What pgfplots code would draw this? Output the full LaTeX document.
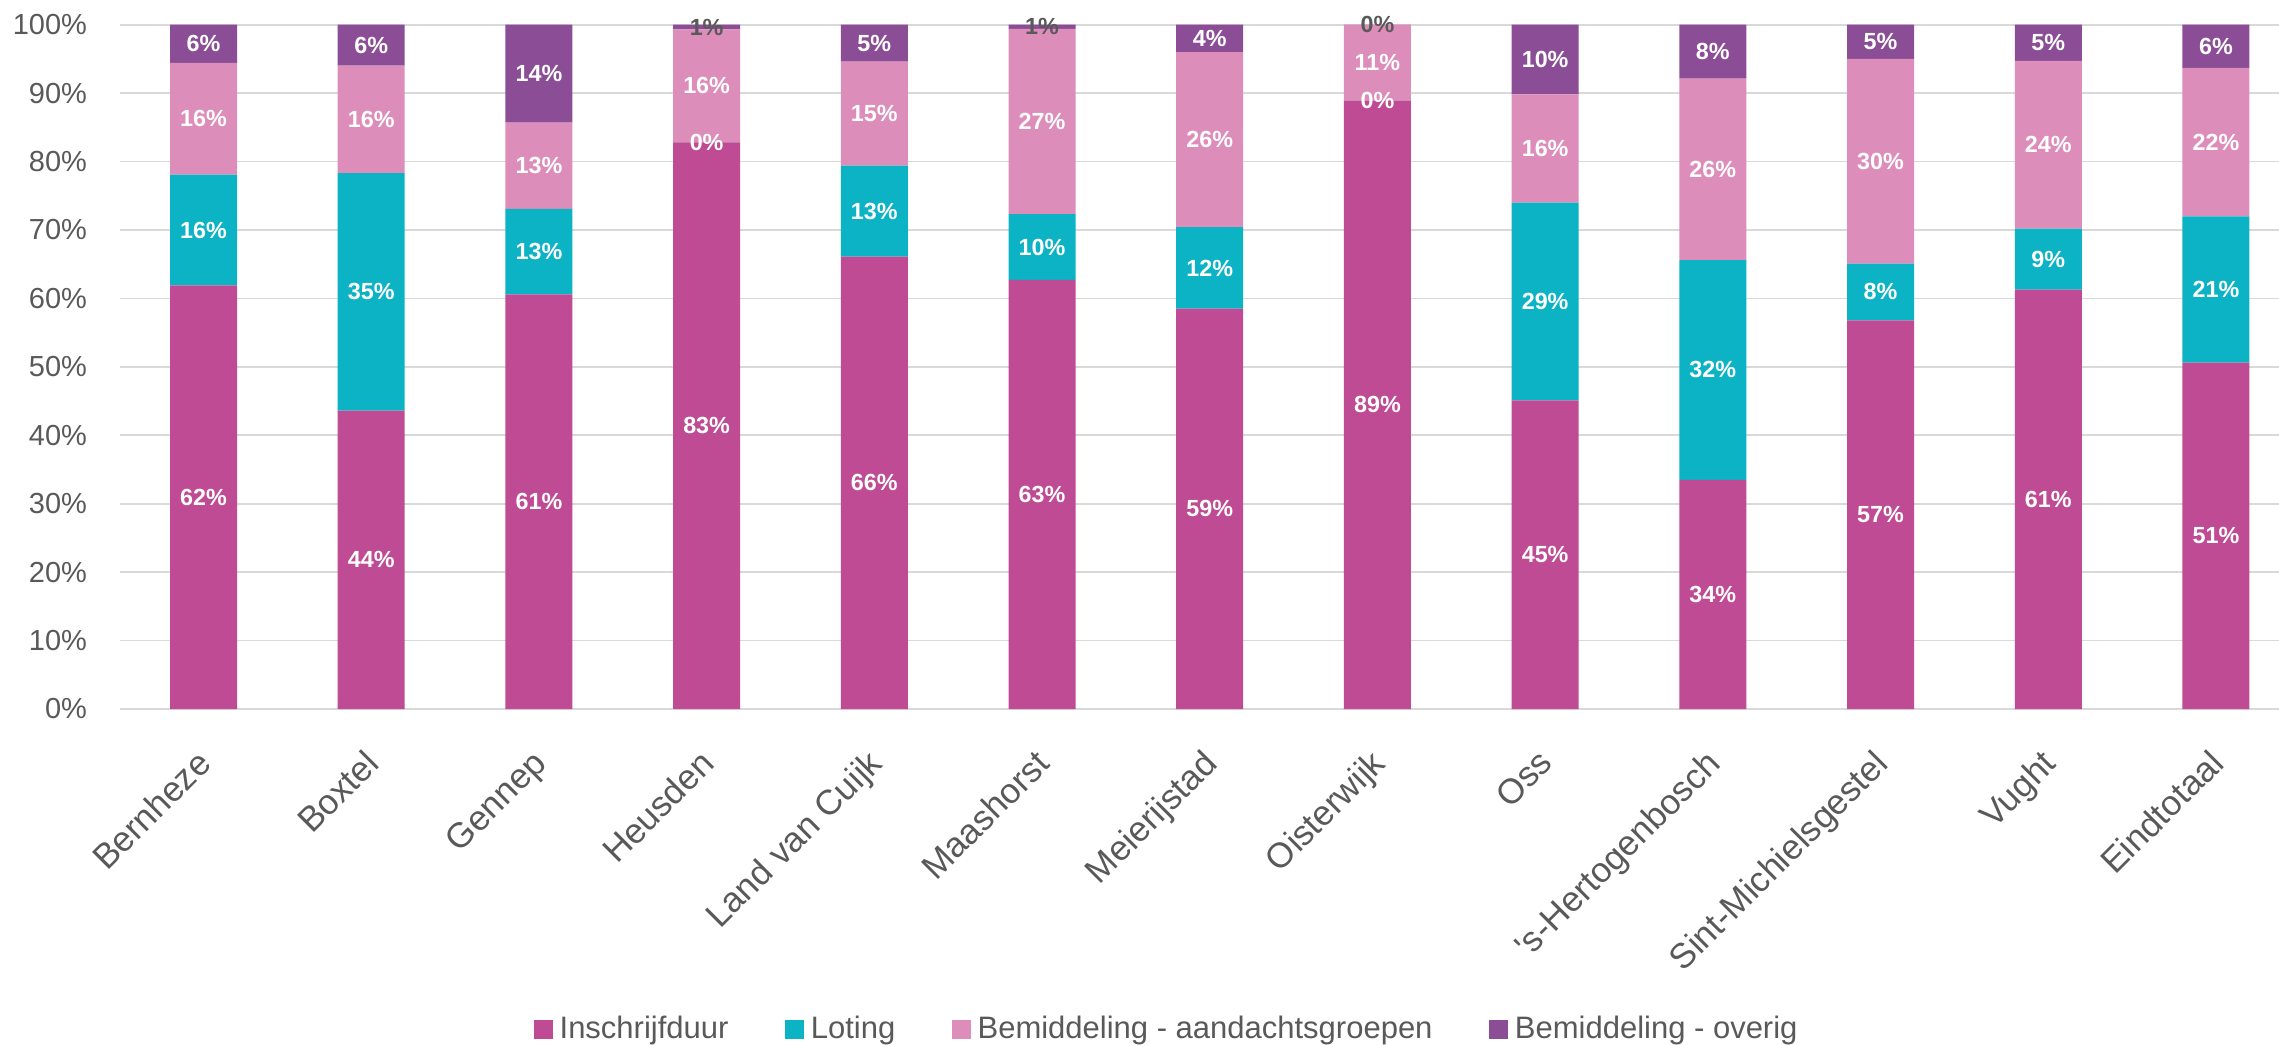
\documentclass[border=0pt]{standalone}
\usepackage{pgfplots}
\pgfplotsset{compat=1.18}
\usepackage{fontspec}
\setmainfont{Liberation Sans}

\definecolor{cInschr}{HTML}{BE4B94}
\definecolor{cLoting}{HTML}{0BB3C4}
\definecolor{cAandacht}{HTML}{DD8DBA}
\definecolor{cOverig}{HTML}{8A4D96}
\definecolor{txtgray}{HTML}{595959}
\definecolor{gridgray}{HTML}{D9D9D9}

\begin{document}
\begin{tikzpicture}
% page = 2279 x 1045 px at 0.3pt per px; axis box starts at (0,0)
\useasboundingbox (-35.9pt,-100.8pt) rectangle (647.8pt,212.7pt);
\begin{axis}[
    at={(0,0)}, anchor=south west,
    scale only axis,
    width=647.8pt, height=205.3pt,
    ybar stacked, bar width=20.1pt,
    xmin=-0.5, xmax=12.376,
    ymin=0, ymax=100,
    xtick={0,...,12},
    xticklabels={Bernheze, Boxtel, Gennep, Heusden, Land van Cuijk, Maashorst, Meierijstad,
        Oisterwijk, Oss, \textquotesingle s-Hertogenbosch, Sint-Michielsgestel, Vught, Eindtotaal},
    ytick={0,10,...,100},
    yticklabel={\pgfmathprintnumber{\tick}\%},
    /pgf/number format/assume math mode=true,
    axis line style={draw=none},
    major tick style={draw=none},
    ymajorgrids=true,
    major grid style={gridgray, line width=0.5pt},
    yticklabel style={anchor=east, inner sep=0pt, xshift=-9.6pt,
        font=\fontsize{8.7}{10}\selectfont, text=txtgray},
    xticklabel style={xshift=-2.5pt, yshift=-11.4pt, rotate=45, anchor=north east, inner sep=0pt,
        font=\fontsize{10.5}{12}\selectfont, text=txtgray},
    nodes near coords,
    point meta=explicit symbolic,
    every node near coord/.append style={anchor=center, inner sep=0pt, text=white,
        font=\fontsize{7}{8}\selectfont\bfseries},
    legend style={at={(0.486,-0.468)}, anchor=center, draw=none, legend columns=4,
        font=\fontsize{9.3}{11}\selectfont, text=txtgray,
        /tikz/every even column/.append style={column sep=15pt}},
    legend image code/.code={\fill[#1] (0pt,-2.85pt) rectangle (5.7pt,2.85pt);},
]

\addplot[fill=cInschr, draw=none] coordinates {
    (0,61.9) [62\%] (1,43.6) [44\%] (2,60.6) [61\%] (3,82.8) [83\%]
    (4,66.1) [66\%] (5,62.7) [63\%] (6,58.5) [59\%] (7,88.9) [89\%]
    (8,45.1) [45\%] (9,33.5) [34\%] (10,56.8) [57\%] (11,61.3) [61\%]
    (12,50.6) [51\%]
};
\addplot[fill=cLoting, draw=none] coordinates {
    (0,16.2) [16\%] (1,34.7) [35\%] (2,12.5) [13\%] (3,0.01) [0\%]
    (4,13.3) [13\%] (5,9.6) [10\%] (6,11.9) [12\%] (7,0.01) [0\%]
    (8,28.9) [29\%] (9,32.1) [32\%] (10,8.3) [8\%] (11,8.9) [9\%]
    (12,21.4) [21\%]
};
\addplot[fill=cAandacht, draw=none] coordinates {
    (0,16.3) [16\%] (1,15.7) [16\%] (2,12.6) [13\%] (3,16.5) [16\%]
    (4,15.2) [15\%] (5,27.1) [27\%] (6,25.6) [26\%] (7,11.08) [11\%]
    (8,15.8) [16\%] (9,26.5) [26\%] (10,29.9) [30\%] (11,24.5) [24\%]
    (12,21.7) [22\%]
};
\addplot[fill=cOverig, draw=none] coordinates {
    (0,5.6) [6\%] (1,6.0) [6\%] (2,14.3) [14\%] (3,0.69) [\textcolor{txtgray}{1\%}]
    (4,5.4) [5\%] (5,0.6) [\textcolor{txtgray}{1\%}] (6,4.0) [4\%] (7,0.01) [\textcolor{txtgray}{0\%}]
    (8,10.2) [10\%] (9,7.9) [8\%] (10,5.0) [5\%] (11,5.3) [5\%]
    (12,6.3) [6\%]
};

\legend{Inschrijfduur, Loting, Bemiddeling - aandachtsgroepen, Bemiddeling - overig}
\end{axis}
\end{tikzpicture}
\end{document}
